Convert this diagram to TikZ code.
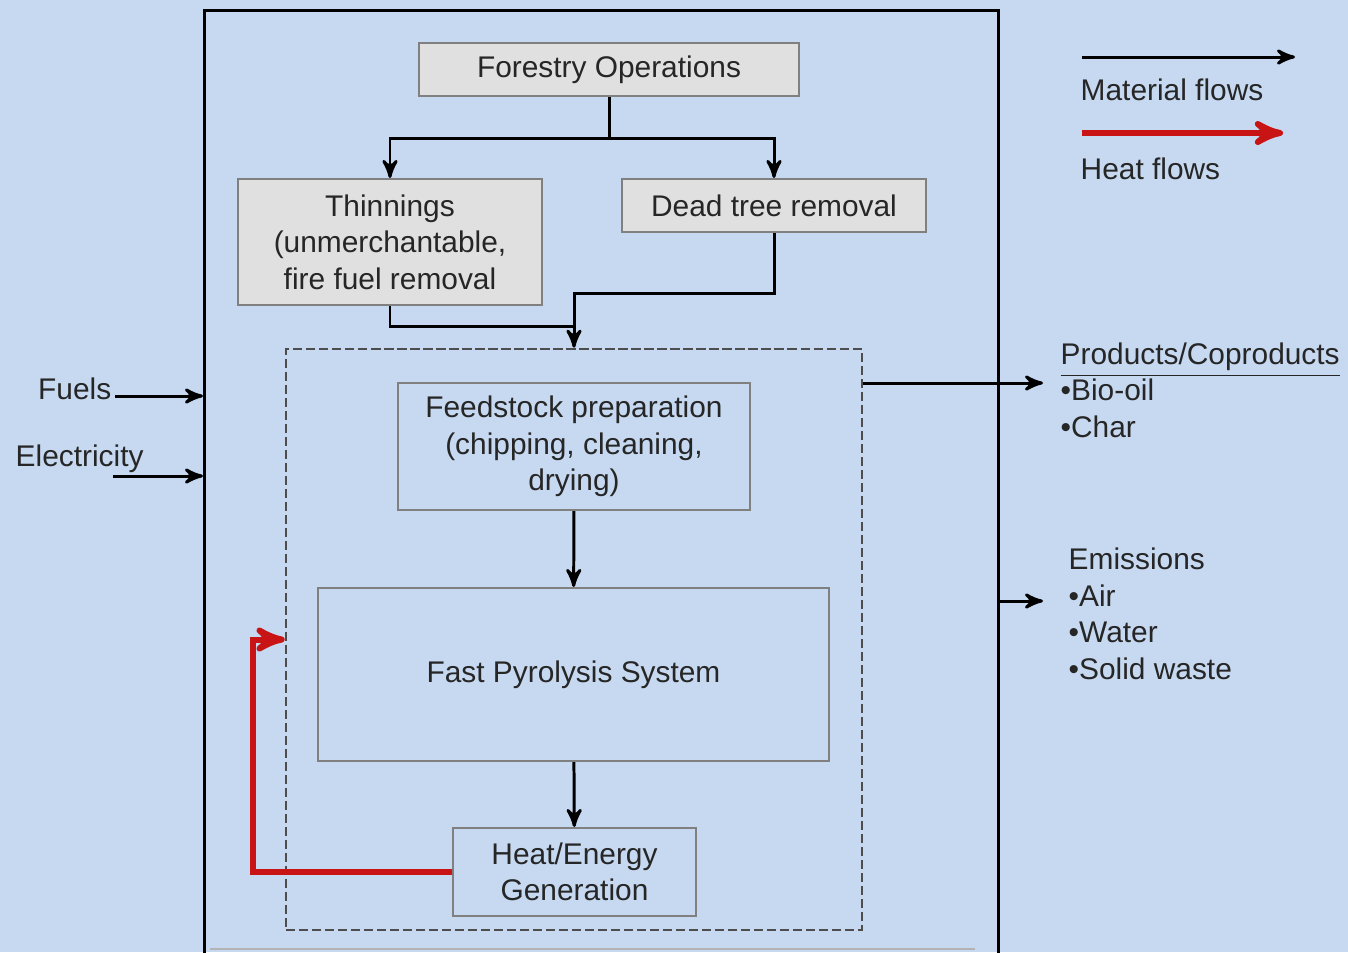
\documentclass[tikz,border=0pt]{standalone}
\usepackage{fontspec}
\setmainfont{Liberation Sans}
\usetikzlibrary{arrows}
\definecolor{slide}{RGB}{198,217,241}
\definecolor{boxfill}{RGB}{224,224,224}
\definecolor{boxline}{RGB}{128,128,128}
\definecolor{ink}{RGB}{38,38,38}
\definecolor{heatred}{RGB}{200,20,20}
\begin{document}
\begin{tikzpicture}[font=\fontsize{8.5}{10.4}\selectfont, text=ink]
		\tikzset{stage/.style = {draw=boxline,line width=0.6pt,align=center,inner sep=0pt}}
		\tikzset{label/.style = {inner sep=0pt,align=left}}
		\tikzset{flow/.style = {->,> = stealth',draw=black,line width=0.85pt}}
		\tikzset{heatflow/.style = {->,> = stealth',draw=heatred,line width=1.7pt}}
		\path[use as bounding box, fill=slide] (0,0) rectangle (13.48,-9.52);
		\clip (0,0) rectangle (13.48,-9.52);
		\node[draw=black,line width=0.85pt,minimum width=7.94cm,minimum height=10cm,anchor=north west,inner sep=0pt] (outer) at (2.03,-0.09) {};
		\node[draw=boxline!60!black,dash pattern=on 2.6pt off 1.1pt,line width=0.75pt,minimum width=5.76cm,minimum height=5.81cm,inner sep=0pt] (sys) at (5.74,-6.395) {};
		\node[stage,fill=boxfill,minimum width=3.80cm,minimum height=0.53cm] (forestry) at (6.09,-0.695) {Forestry Operations};
		\node[stage,fill=boxfill,minimum width=3.04cm,minimum height=1.26cm] (thin) at (3.90,-2.42) {Thinnings\\(unmerchantable,\\fire fuel removal};
		\node[stage,fill=boxfill,minimum width=3.04cm,minimum height=0.53cm] (dead) at (7.74,-2.055) {Dead tree removal};
		\node[stage,minimum width=3.52cm,minimum height=1.27cm] (prep) at (5.74,-4.465) {Feedstock preparation\\(chipping, cleaning,\\drying)};
		\node[stage,minimum width=5.11cm,minimum height=1.73cm] (pyro) at (5.735,-6.745) {Fast Pyrolysis System};
		\node[stage,minimum width=2.43cm,minimum height=0.88cm] (heat) at (5.745,-8.72) {Heat/Energy\\Generation};
		\node[label,anchor=east] (fuels) at (1.12,-3.89) {Fuels};
		\node[label,anchor=west] (elec) at (0.15,-4.59) {Electricity};
		\node[label,anchor=west] (prod) at (10.60,-3.90) {\underline{Products/Coproducts}\\•Bio-oil\\•Char};
		\node[label,anchor=west] (emis) at (10.68,-6.14) {Emissions\\•Air\\•Water\\•Solid waste};
		\node[label,anchor=west] (matlbl) at (10.80,-0.90) {Material flows};
		\node[label,anchor=west] (heatlbl) at (10.80,-1.69) {Heat flows};
		\coordinate (fin) at (1.15,-3.96);
		\coordinate (ein) at (1.13,-4.76);
		\coordinate (pout) at (10.43,-3.83);
		\coordinate (eout) at (10.43,-6.01);
		\coordinate (join) at (5.74,-3.26);
		\coordinate (hturn) at (2.53,-8.72);
		\coordinate (mat1) at (10.82,-0.57);
		\coordinate (mat2) at (12.95,-0.57);
		\coordinate (hot1) at (10.82,-1.33);
		\coordinate (hot2) at (12.83,-1.33);
		\path[flow] (forestry.south) -- ++(0,-0.41) -| (thin.north);
		\path[flow] (forestry.south) -- ++(0,-0.41) -| (dead.north);
		\path[draw=black,line width=0.85pt] (thin.south) |- (join);
		\path[flow] (dead.south) -- ++(0,-0.60) -| (sys.north);
		\path[flow] (prep) edge (pyro);
		\path[flow] (pyro) edge (heat);
		\path[heatflow] (heat.west) -- (hturn) |- (sys.west);
		\path[flow] (fin) -- (fin -| outer.west);
		\path[flow] (ein) -- (ein -| outer.west);
		\path[flow] (pout -| sys.east) -- (pout);
		\path[flow] (eout -| outer.east) -- (eout);
		\path[flow] (mat1) -- (mat2);
		\path[heatflow] (hot1) -- (hot2);
		\draw[boxline!60,line width=0.6pt] (2.10,-9.49) -- (9.75,-9.49);
	\end{tikzpicture}
\end{document}
